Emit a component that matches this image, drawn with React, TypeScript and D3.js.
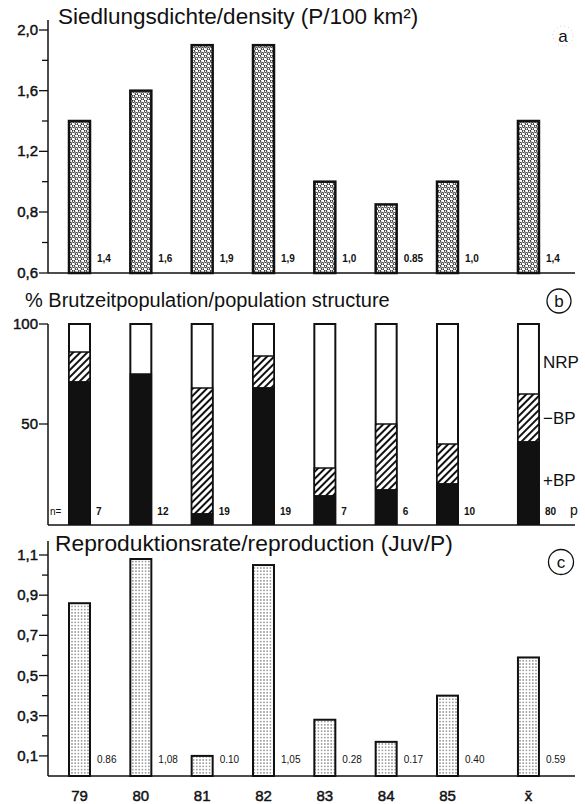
import React from 'react';
import { scaleLinear } from 'd3';

// categories (years + mean)
const years = ['79', '80', '81', '82', '83', '84', '85', 'x̄'];
const slots = [0, 1, 2, 3, 4, 5, 6, 7.32];

// a: density (P/100 km²)
const density = [1.4, 1.6, 1.9, 1.9, 1.0, 0.85, 1.0, 1.4];
const densityLabels = ['1,4', '1,6', '1,9', '1,9', '1,0', '0.85', '1,0', '1,4'];
const densityTicks = [0.6, 0.8, 1.2, 1.6, 2.0];
const densityTickLabels = ['0,6', '0,8', '1,2', '1,6', '2,0'];
const densityMinor = [0.7, 1.0, 1.4, 1.8];

// b: population structure (%)
const plusBP = [71, 75, 5, 68, 14, 17, 20, 41];
const minusBP = [15, 0, 63, 16, 14, 33, 20, 24];
const nCounts = ['7', '12', '19', '19', '7', '6', '10', '80'];
const structTicks = [50, 100];

// c: reproduction (Juv/P)
const repro = [0.86, 1.08, 0.10, 1.05, 0.28, 0.17, 0.40, 0.59];
const reproLabels = ['0.86', '1,08', '0.10', '1,05', '0.28', '0.17', '0.40', '0.59'];
const reproTicks = [0.1, 0.3, 0.5, 0.7, 0.9, 1.1];
const reproTickLabels = ['0,1', '0,3', '0,5', '0,7', '0,9', '1,1'];
const reproMinor = [0.2, 0.4, 0.6, 0.8, 1.0];

const W = 585;
const H = 804;
const font = '"Liberation Sans", Arial, Helvetica, sans-serif';
const axisX = 48;
const rightEnd = 575;
const barW = 21;

const x = scaleLinear().domain([0, 6]).range([79.5, 447.5]);
const yA = scaleLinear().domain([0.6, 0.8, 2.0]).range([273, 212, 30]);
const yB = scaleLinear().domain([0, 100]).range([524, 324]);
const yC = scaleLinear().domain([0, 1.1]).range([776, 555]);

// tick labels look a little heavier than plain text in the original
const tickStyle = { stroke: '#111', strokeWidth: 0.45 };

const App = () => {
  return (
    <svg width={W} height={H} style={{ position: 'absolute', left: 0, top: 0, background: '#fff' }}
      fontFamily={font}>
      <defs>
        <pattern id="rings" width="6" height="5" patternUnits="userSpaceOnUse">
          <rect width="6" height="5" fill="#fff" />
          <circle cx="1.5" cy="1.25" r="1.3" fill="none" stroke="#111" strokeWidth="1" />
          <circle cx="4.5" cy="3.75" r="1.3" fill="none" stroke="#111" strokeWidth="1" />
        </pattern>
        <pattern id="dots" width="3.2" height="3.2" patternUnits="userSpaceOnUse">
          <rect width="3.2" height="3.2" fill="#fff" />
          <circle cx="1.6" cy="1.6" r="0.65" fill="#222" />
        </pattern>
        <pattern id="hatch" width="5" height="5" patternUnits="userSpaceOnUse" patternTransform="rotate(45)">
          <rect width="5" height="5" fill="#fff" />
          <line x1="0" y1="0" x2="0" y2="5" stroke="#111" strokeWidth="4" />
        </pattern>
      </defs>

      {/* ---------- panel a ---------- */}
      <text x={58} y={24} fontSize={22.5} fill="#111">Siedlungsdichte/density (P/100 km²)</text>
      <circle cx={563} cy={36} r={10} fill="none" stroke="#bbb" strokeWidth={0.8} strokeDasharray="1,3" />
      <text x={563} y={42} fontSize={17} textAnchor="middle" fill="#111">a</text>
      <line x1={axisX} x2={axisX} y1={20} y2={yA(0.6)} stroke="#111" strokeWidth={1.5} />
      <line x1={axisX} x2={rightEnd} y1={yA(0.6)} y2={yA(0.6)} stroke="#111" strokeWidth={1.5} />
      {densityTicks.map((t, i) => (
        <g key={t}>
          <line x1={axisX - 9} x2={axisX} y1={yA(t)} y2={yA(t)} stroke="#111" strokeWidth={1.3} />
          <text x={axisX - 10} y={yA(t) + 5} fontSize={15} textAnchor="end" fill="#111" {...tickStyle}>{densityTickLabels[i]}</text>
        </g>
      ))}
      {densityMinor.map(t => (
        <line key={t} x1={axisX - 6} x2={axisX} y1={yA(t)} y2={yA(t)} stroke="#111" strokeWidth={1.3} />
      ))}
      {density.map((d, i) => {
        const cx = x(slots[i]);
        return (
          <g key={i}>
            <rect x={cx - barW / 2} y={yA(d)} width={barW} height={yA(0.6) - yA(d)}
              fill="url(#rings)" stroke="#111" strokeWidth={2.5} />
            <text x={cx + barW / 2 + 7} y={262} fontSize={10} fontWeight="bold" fill="#111">{densityLabels[i]}</text>
          </g>
        );
      })}

      {/* ---------- panel b ---------- */}
      <text x={25} y={307} fontSize={20} fill="#111">% Brutzeitpopulation/population structure</text>
      <circle cx={559} cy={301} r={12} fill="none" stroke="#111" strokeWidth={1.3} />
      <text x={559} y={307} fontSize={17} textAnchor="middle" fill="#111">b</text>
      <line x1={axisX} x2={axisX} y1={yB(100)} y2={525} stroke="#111" strokeWidth={1.5} />
      <line x1={axisX} x2={rightEnd} y1={525} y2={525} stroke="#111" strokeWidth={1.5} />
      {structTicks.map(t => (
        <g key={t}>
          <line x1={axisX - 9} x2={axisX} y1={yB(t)} y2={yB(t)} stroke="#111" strokeWidth={1.3} />
          <text x={axisX - 10} y={yB(t) + 5} fontSize={15} textAnchor="end" fill="#111" {...tickStyle}>{t}</text>
        </g>
      ))}
      {plusBP.map((p, i) => {
        const cx = x(slots[i]);
        const m = minusBP[i];
        const x0 = cx - barW / 2;
        return (
          <g key={i}>
            <rect x={x0} y={yB(100)} width={barW} height={yB(0) - yB(100)} fill="#fff" stroke="#111" strokeWidth={2} />
            {m > 0 && (
              <rect x={x0} y={yB(p + m)} width={barW} height={yB(p) - yB(p + m)} fill="url(#hatch)" stroke="#111" strokeWidth={1.5} />
            )}
            <rect x={x0} y={yB(p)} width={barW} height={yB(0) - yB(p)} fill="#111" stroke="#111" strokeWidth={1.5} />
            <text x={cx + barW / 2 + 6} y={515} fontSize={10} fontWeight="bold" fill="#111">{nCounts[i]}</text>
          </g>
        );
      })}
      <text x={50} y={515} fontSize={10} fill="#111">n=</text>
      <text x={570} y={515} fontSize={14} fill="#111">p</text>
      <text x={543} y={368} fontSize={17} fill="#111">NRP</text>
      <text x={543} y={424} fontSize={17} fill="#111">−BP</text>
      <text x={543} y={486} fontSize={17} fill="#111">+BP</text>

      {/* ---------- panel c ---------- */}
      <text x={55} y={551} fontSize={22.8} fill="#111">Reproduktionsrate/reproduction (Juv/P)</text>
      <circle cx={561} cy={562} r={12.5} fill="none" stroke="#111" strokeWidth={1.3} />
      <text x={561} y={568} fontSize={17} textAnchor="middle" fill="#111">c</text>
      <line x1={axisX} x2={axisX} y1={541} y2={yC(0)} stroke="#111" strokeWidth={1.5} />
      <line x1={axisX} x2={rightEnd} y1={yC(0)} y2={yC(0)} stroke="#111" strokeWidth={1.5} />
      {reproTicks.map((t, i) => (
        <g key={t}>
          <line x1={axisX - 9} x2={axisX} y1={yC(t)} y2={yC(t)} stroke="#111" strokeWidth={1.3} />
          <text x={axisX - 10} y={yC(t) + 5} fontSize={15} textAnchor="end" fill="#111" {...tickStyle}>{reproTickLabels[i]}</text>
        </g>
      ))}
      {reproMinor.map(t => (
        <line key={t} x1={axisX - 6} x2={axisX} y1={yC(t)} y2={yC(t)} stroke="#111" strokeWidth={1.3} />
      ))}
      {repro.map((d, i) => {
        const cx = x(slots[i]);
        return (
          <g key={i}>
            <rect x={cx - barW / 2} y={yC(d)} width={barW} height={yC(0) - yC(d)}
              fill="url(#dots)" stroke="#111" strokeWidth={2} />
            <text x={cx + barW / 2 + 7} y={763} fontSize={10} fill="#111">{reproLabels[i]}</text>
          </g>
        );
      })}
      {years.map((yr, i) => (
        <text key={yr} x={x(slots[i])} y={801} fontSize={15} textAnchor="middle" fill="#111" {...tickStyle}>{yr}</text>
      ))}
    </svg>
  );
};

export default App;
